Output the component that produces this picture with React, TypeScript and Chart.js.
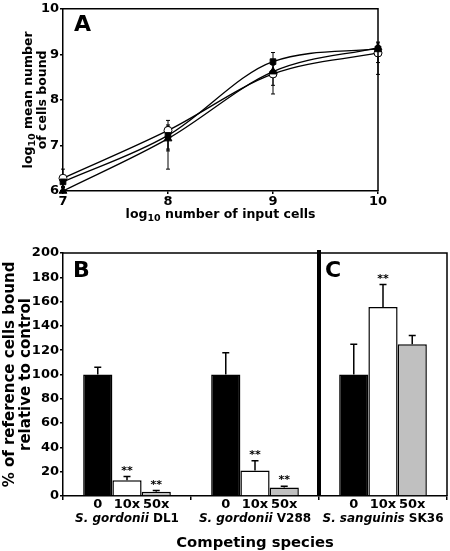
import React, { useEffect, useRef } from "react";
import { Chart, registerables } from "chart.js";

Chart.register(...registerables);

const FONT = '"DejaVu Sans", Verdana, sans-serif';

// ---------- Panel A data ----------
const INPUT_LOG = [7, 8, 9, 10];
const SQUARE_Y = [6.2, 7.22, 8.84, 9.12];
const SQUARE_UP = [0.12, 0.2, 0.2, 0.15];
const SQUARE_DN = [0.12, 0.3, 0.2, 0.3];
const TRIANGLE_Y = [6.0, 7.15, 8.62, 9.15];
const TRIANGLE_UP = [0.1, 0.3, 0.15, 0.1];
const TRIANGLE_DN = [0.1, 0.67, 0.3, 0.1];
const CIRCLE_Y = [6.28, 7.33, 8.57, 9.03];
const CIRCLE_UP = [0.2, 0.22, 0.2, 0.1];
const CIRCLE_DN = [0.2, 0.45, 0.44, 0.47];
const A_Y_TICKS = [6, 7, 8, 9, 10];

// ---------- Panel B/C data ----------
const SPECIES_ITALIC = ["S. gordonii", "S. gordonii", "S. sanguinis"];
const SPECIES_STRAIN = [" DL1", " V288", " SK36"];
const DOSES = ["0", "10x", "50x"];
const CONTROL_0 = [100, 100, 100];
const COMP_10X = [13, 21, 155.5];
const COMP_50X = [3.5, 7, 125];
const ERR_0 = [6, 18, 25];
const ERR_10X = [3, 8, 18.5];
const ERR_50X = [1, 1, 7];
const SIG_10X = ["**", "**", "**"];
const SIG_50X = ["**", "**", ""];

type Part = { t: string; size: number; style?: string; dy?: number };

function drawRich(ctx: CanvasRenderingContext2D, parts: Part[], x: number, y: number) {
  let total = 0;
  const widths = parts.map((p) => {
    ctx.font = `${p.style || ""} bold ${p.size}px ${FONT}`;
    const w = ctx.measureText(p.t).width;
    total += w;
    return w;
  });
  let cx = x - total / 2;
  ctx.textAlign = "left";
  ctx.textBaseline = "alphabetic";
  parts.forEach((p, i) => {
    ctx.font = `${p.style || ""} bold ${p.size}px ${FONT}`;
    ctx.fillText(p.t, cx, y + (p.dy || 0));
    cx += widths[i];
  });
}

function PanelA() {
  const ref = useRef<HTMLCanvasElement>(null);
  useEffect(() => {
    const canvas = ref.current!;
    const series = [
      { y: TRIANGLE_Y, up: TRIANGLE_UP, dn: TRIANGLE_DN, style: "triangle", r: 4.5, fill: "#000" },
      { y: SQUARE_Y, up: SQUARE_UP, dn: SQUARE_DN, style: "rect", r: 4, fill: "#000" },
      { y: CIRCLE_Y, up: CIRCLE_UP, dn: CIRCLE_DN, style: "circle", r: 4, fill: "#fff" },
    ];
    const errPlugin = {
      id: "errA",
      beforeDatasetsDraw(chart: any) {
        const ctx = chart.ctx;
        const ys = chart.scales.y;
        ctx.save();
        ctx.strokeStyle = "#000";
        ctx.lineWidth = 1;
        series.forEach((s, d) => {
          const meta = chart.getDatasetMeta(d);
          meta.data.forEach((pt: any, i: number) => {
            const x = pt.x;
            const top = ys.getPixelForValue(s.y[i] + s.up[i]);
            const bot = Math.min(ys.getPixelForValue(s.y[i] - s.dn[i]), chart.chartArea.bottom);
            ctx.beginPath();
            ctx.moveTo(x, top);
            ctx.lineTo(x, bot);
            ctx.moveTo(x - 2, top);
            ctx.lineTo(x + 2, top);
            if (bot < chart.chartArea.bottom) {
              ctx.moveTo(x - 2, bot);
              ctx.lineTo(x + 2, bot);
            }
            ctx.stroke();
          });
        });
        ctx.restore();
      },
    };
    const decoPlugin = {
      id: "decoA",
      afterDraw(chart: any) {
        const ctx = chart.ctx;
        const a = chart.chartArea;
        ctx.save();
        ctx.strokeStyle = "#000";
        ctx.lineWidth = 1.5;
        ctx.beginPath();
        ctx.moveTo(a.left, a.top);
        ctx.lineTo(a.right, a.top);
        ctx.lineTo(a.right, a.bottom);
        ctx.stroke();
        ctx.fillStyle = "#000";
        ctx.font = `bold 22px ${FONT}`;
        ctx.textAlign = "left";
        ctx.textBaseline = "alphabetic";
        ctx.fillText("A", 74, 31);
        // x title
        drawRich(
          ctx,
          [
            { t: "log", size: 12.5 },
            { t: "10", size: 9.5, dy: 3 },
            { t: " number of input cells", size: 12.5 },
          ],
          (a.left + a.right) / 2,
          218
        );
        // y title
        const cy = (a.top + a.bottom) / 2;
        ctx.translate(32, cy);
        ctx.rotate(-Math.PI / 2);
        drawRich(
          ctx,
          [
            { t: "log", size: 12.5 },
            { t: "10", size: 9.5, dy: 3 },
            { t: " mean number", size: 12.5 },
          ],
          0,
          0
        );
        drawRich(ctx, [{ t: "of cells bound", size: 12.5 }], 0, 14);
        ctx.restore();
      },
    };
    const chart = new Chart(canvas, {
      type: "line",
      data: {
        datasets: series.map((s) => ({
          data: INPUT_LOG.map((x, i) => ({ x, y: s.y[i] })),
          borderColor: "#000",
          borderWidth: 1.3,
          cubicInterpolationMode: "monotone" as const,
          pointStyle: s.style as any,
          pointRadius: s.r,
          pointBackgroundColor: s.fill,
          pointBorderColor: "#000",
          pointBorderWidth: 1,
          clip: false as any,
        })),
      },
      options: {
        responsive: false,
        animation: false,
        layout: { padding: { top: 5, right: 72, left: 0, bottom: 0 } },
        plugins: { legend: { display: false }, tooltip: { enabled: false } },
        scales: {
          x: {
            type: "linear",
            min: 7,
            max: 10,
            afterBuildTicks: (s: any) => {
              s.ticks = INPUT_LOG.map((v) => ({ value: v }));
            },
            ticks: { color: "#000", font: { family: FONT, size: 13, weight: "bold" }, padding: 0 },
            grid: { drawOnChartArea: false, color: "#000", lineWidth: 1.5, tickLength: 3 },
            border: { color: "#000", width: 1.5 },
            afterFit: (s: any) => {
              s.height = 49;
            },
          },
          y: {
            type: "linear",
            min: 6,
            max: 10,
            afterBuildTicks: (s: any) => {
              s.ticks = A_Y_TICKS.map((v) => ({ value: v }));
            },
            ticks: { color: "#000", font: { family: FONT, size: 13, weight: "bold" }, padding: 1 },
            grid: { drawOnChartArea: false, color: "#000", lineWidth: 1.5, tickLength: 3 },
            border: { color: "#000", width: 1.5 },
            afterFit: (s: any) => {
              s.width = 63;
            },
          },
        },
      },
      plugins: [errPlugin, decoPlugin],
    });
    return () => chart.destroy();
  }, []);
  return <canvas ref={ref} width={450} height={240} style={{ display: "block", position: "absolute", left: 0, top: 0 }} />;
}

function PanelB() {
  const ref = useRef<HTMLCanvasElement>(null);
  useEffect(() => {
    const canvas = ref.current!;
    const errs = [ERR_0, ERR_10X, ERR_50X];
    const vals = [CONTROL_0, COMP_10X, COMP_50X];
    const sigs = [null, SIG_10X, SIG_50X];
    const plugin = {
      id: "decoB",
      afterDatasetsDraw(chart: any) {
        const ctx = chart.ctx;
        const ys = chart.scales.y;
        ctx.save();
        ctx.strokeStyle = "#000";
        ctx.fillStyle = "#000";
        ctx.lineWidth = 1.5;
        vals.forEach((v, d) => {
          const meta = chart.getDatasetMeta(d);
          meta.data.forEach((bar: any, i: number) => {
            const x = bar.x;
            const y0 = ys.getPixelForValue(v[i]);
            const y1 = ys.getPixelForValue(v[i] + errs[d][i]);
            ctx.beginPath();
            ctx.moveTo(x, y0);
            ctx.lineTo(x, y1);
            ctx.moveTo(x - 3.5, y1);
            ctx.lineTo(x + 3.5, y1);
            ctx.stroke();
            const s = sigs[d];
            if (s && s[i]) {
              ctx.font = `bold 11px ${FONT}`;
              ctx.textAlign = "center";
              ctx.textBaseline = "alphabetic";
              ctx.fillText(s[i], x, y1 - 3);
            }
          });
        });
        ctx.restore();
      },
      afterDraw(chart: any) {
        const ctx = chart.ctx;
        const a = chart.chartArea;
        const xs = chart.scales.x;
        ctx.save();
        ctx.strokeStyle = "#000";
        ctx.fillStyle = "#000";
        ctx.lineWidth = 1.5;
        ctx.beginPath();
        ctx.moveTo(a.left, a.top);
        ctx.lineTo(a.right, a.top);
        ctx.lineTo(a.right, a.bottom);
        ctx.stroke();
        // divider between B and C
        const dx = (xs.getPixelForValue(1) + xs.getPixelForValue(2)) / 2;
        ctx.lineWidth = 4;
        ctx.beginPath();
        ctx.moveTo(dx, a.top - 3);
        ctx.lineTo(dx, a.bottom);
        ctx.stroke();
        // panel letters
        ctx.font = `bold 22px ${FONT}`;
        ctx.textAlign = "left";
        ctx.textBaseline = "alphabetic";
        ctx.fillText("B", 73, 37);
        ctx.fillText("C", dx + 6, 37);
        // dose labels
        ctx.font = `bold 13px ${FONT}`;
        ctx.textAlign = "center";
        vals.forEach((_, d) => {
          const meta = chart.getDatasetMeta(d);
          meta.data.forEach((bar: any) => {
            ctx.fillText(DOSES[d], bar.x, a.bottom + 11.5);
          });
        });
        // species labels
        SPECIES_ITALIC.forEach((sp, i) => {
          drawRich(
            ctx,
            [
              { t: sp, size: 12, style: "italic" },
              { t: SPECIES_STRAIN[i], size: 12 },
            ],
            xs.getPixelForValue(i),
            a.bottom + 25.5
          );
        });
        // x title
        drawRich(ctx, [{ t: "Competing species", size: 14.8 }], (a.left + a.right) / 2, 306.5);
        // y title
        ctx.translate(13.5, (a.top + a.bottom) / 2);
        ctx.rotate(-Math.PI / 2);
        drawRich(ctx, [{ t: "% of reference cells bound", size: 15 }], 0, 0);
        drawRich(ctx, [{ t: "relative to control", size: 15 }], 0, 16.5);
        ctx.restore();
      },
    };
    const chart = new Chart(canvas, {
      type: "bar",
      data: {
        labels: SPECIES_ITALIC.map((s, i) => s + SPECIES_STRAIN[i]),
        datasets: [
          { label: DOSES[0], data: CONTROL_0, backgroundColor: "#000" },
          { label: DOSES[1], data: COMP_10X, backgroundColor: "#fff" },
          { label: DOSES[2], data: COMP_50X, backgroundColor: "#c0c0c0" },
        ].map((d) => ({
          ...d,
          borderColor: "#000",
          borderWidth: 1.5,
          barPercentage: 1,
          categoryPercentage: 0.685,
        })),
      },
      options: {
        responsive: false,
        animation: false,
        layout: { padding: { top: 13, right: 3, left: 0, bottom: 0 } },
        plugins: { legend: { display: false }, tooltip: { enabled: false } },
        scales: {
          x: {
            type: "category",
            ticks: { display: false },
            grid: { offset: true, drawOnChartArea: false, color: "#000", lineWidth: 1.5, tickLength: 4 },
            border: { color: "#000", width: 1.5 },
            afterFit: (s: any) => {
              s.height = 55;
            },
          },
          y: {
            type: "linear",
            min: 0,
            max: 200,
            ticks: { stepSize: 20, color: "#000", font: { family: FONT, size: 13, weight: "bold" }, padding: 1 },
            grid: { drawOnChartArea: false, color: "#000", lineWidth: 1.5, tickLength: 3 },
            border: { color: "#000", width: 1.5 },
            afterFit: (s: any) => {
              s.width = 63;
            },
          },
        },
      },
      plugins: [plugin],
    });
    return () => chart.destroy();
  }, []);
  return <canvas ref={ref} width={450} height={311} style={{ display: "block", position: "absolute", left: 0, top: 240 }} />;
}

export default function App() {
  return (
    <div style={{ position: "absolute", left: 0, top: 0, width: 450, height: 551, background: "#fff" }}>
      <PanelA />
      <PanelB />
    </div>
  );
}
